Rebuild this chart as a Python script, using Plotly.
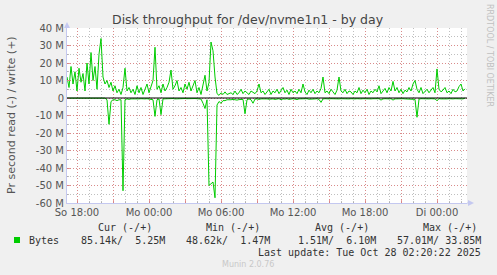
import pandas as pd
import plotly.graph_objects as go

# ---- data (MB/s), 10-minute samples starting Sun 2025-10-26 17:10 ----
write_mb = [12, 6, 18, 8, 15, 4, 17, 9, 14, 4, 20, 8, 26, 10, 18, 5, 25, 34, 12, 8,
            10, 6, 9, 4, 7, 3, 5, 2, 6, 17, 4, 6, 3, 5, 2, 7, 3, 6, 2, 5,
            8, 3, 6, 10, 29, 5, 7, 3, 8, 4, 6, 9, 16, 5, 7, 10, 4, 6, 3, 8, 5, 9, 4, 7, 10, 3, 6, 2, 8, 13, 4, 9,
            32, 27, 12, 2.5,
            1.5, 3, 2, 3.5, 2, 2.5, 3, 2, 4, 2, 3, 5, 2.5, 4, 3, 2, 4, 3, 2.5, 4, 8, 3, 4, 2, 3.5, 5, 2, 4,
            3, 5, 2.5, 4, 6, 3, 4.5, 2, 5, 3,
            4, 2.5, 5, 3, 8, 3.5, 2, 4.5, 3, 5,
            2.5, 4, 3, 5.5, 12, 3, 4, 2.5, 5, 3.5,
            2, 4.5, 12, 4, 3, 5, 2.5, 4, 3.5, 2,
            4, 3, 6, 2.5, 4.5, 3, 5, 2, 4, 3,
            5, 3.5, 7, 2.5, 4, 5.5, 3, 6, 4, 9.5,
            4, 6, 3, 5, 2.5, 4.5, 3.5, 6, 4, 8,
            10, 5, 3, 6, 2.5, 4, 5, 3, 4.5, 6,
            3, 16.6, 5, 3.5, 4.5, 6, 3, 4, 2.5, 5,
            3.5, 4, 6.5, 8, 4, 5.25]

read_mb = [0.1, 0.1, 0.1, 0.1, 0.1, 0.1, 0.1, 0.1, 0.1, 0.1, 0.1, 0.1, 0.1, 0.1, 0.1, 0.1, 0.1, 0.1, 0.1, 0.1,
           1, 15, 2, 1, 1, 1.5, 1, 1, 53, 1,
           0.5, 0.8, 0.5, 0.6, 0.5, 0.7, 0.5, 0.4, 0.6, 0.5, 0.4, 0.6, 0.5,
           1, 10.5, 1, 0.5, 9.5, 0.5,
           0.4, 0.3, 0.5, 0.4, 0.3, 0.5, 0.4, 0.3, 0.4, 0.5, 0.3, 0.4, 0.3, 0.5, 0.4, 0.3, 0.4, 0.5, 0.6,
           3, 6, 1, 50, 49, 48, 57, 4, 2, 3, 1.5,
           1.5, 1, 1.2, 1, 0.8, 1, 1.2, 0.9, 1, 0.8,
           9, 1, 0.5, 1, 3,
           0.6, 0.5, 0.8, 0.5, 0.4, 0.6, 0.5, 0.7, 0.4, 0.5,
           0.8, 0.5, 0.4, 1, 0.5, 0.6, 0.4, 0.8, 0.5, 0.4,
           0.6, 0.9, 0.5, 0.4, 0.6, 0.5, 0.4, 0.7, 0.5, 0.4,
           0.5, 0.4, 0.8, 2.5, 0.5, 0.4, 0.6, 0.5, 0.4, 0.5,
           0.4, 0.6, 0.5, 0.4, 0.5, 0.6, 0.4, 0.5, 0.4, 0.6,
           0.5, 0.4, 0.6, 0.5, 0.4, 0.5, 0.6, 0.4, 0.5, 0.4,
           0.5, 0.6, 0.4, 1.2, 0.5, 0.4, 0.6, 0.5, 0.4, 1.2,
           0.5, 0.4, 0.6, 0.5, 0.4, 0.5, 0.6, 0.4, 0.5, 0.6,
           0.8, 11, 0.6, 0.4, 0.5, 0.6, 0.4, 0.5, 0.4, 0.6,
           0.5, 1.5, 0.4, 0.5, 0.6, 0.4, 0.5, 0.4, 0.6, 0.5,
           0.4, 0.5, 0.6, 0.4, 0.5, 0.085]

x_tickvals = ["2025-10-26 18:00", "2025-10-26 21:00", "2025-10-27 00:00", "2025-10-27 03:00",
              "2025-10-27 06:00", "2025-10-27 09:00", "2025-10-27 12:00", "2025-10-27 15:00",
              "2025-10-27 18:00", "2025-10-27 21:00", "2025-10-28 00:00"]
x_ticktext = ["So 18:00", "", "Mo 00:00", "", "Mo 06:00", "", "Mo 12:00", "", "Mo 18:00", "", "Di 00:00"]
y_tickvals = [-60, -50, -40, -30, -20, -10, 0, 10, 20, 30, 40]
y_ticktext = ["-60 M", "-50 M", "-40 M", "-30 M", "-20 M", "-10 M", "0", "10 M", "20 M", "30 M", "40 M"]

legend_headers = ["Cur (-/+)", "Min (-/+)", "Avg (-/+)", "Max (-/+)"]
legend_values = ["85.14k/  5.25M", "48.62k/  1.47M", " 1.51M/  6.10M", "57.01M/ 33.85M"]

times = pd.date_range("2025-10-26 17:10", periods=len(write_mb), freq="10min")

W, H = 497, 275
L, R, T, B = 67, 467, 28, 203
GREEN = "#00CC00"


def px(x):
    return (x - L) / (R - L)


def py(y):
    return (B - y) / (B - T)


fig = go.Figure()
fig.add_trace(go.Scatter(x=times, y=write_mb, mode="lines",
                         line=dict(color=GREEN, width=1), showlegend=False))
fig.add_trace(go.Scatter(x=times, y=[-v for v in read_mb], mode="lines",
                         line=dict(color=GREEN, width=1), showlegend=False))

red_grid = "rgba(225,120,120,0.75)"
grey_grid = "rgba(170,170,170,0.75)"
axis_col = "#C4C8F0"

fig.update_layout(
    width=W, height=H,
    margin=dict(l=L, r=W - R, t=T, b=H - B, pad=0),
    paper_bgcolor="#F0F0F0", plot_bgcolor="#FFFFFF",
    font=dict(family="DejaVu Sans", size=10, color="#555555"),
    xaxis=dict(
        range=["2025-10-26 17:10", "2025-10-28 02:30"],
        tickmode="array", tickvals=x_tickvals, ticktext=x_ticktext,
        showgrid=True, gridcolor=red_grid, griddash="1px,2px", gridwidth=1,
        showline=True, linecolor=axis_col, linewidth=1,
        ticks="inside", ticklen=3, tickcolor=red_grid,
        tickfont=dict(family="DejaVu Sans", size=10, color="#555555"),
        zeroline=False, fixedrange=True,
        minor=dict(dtick=3600000, tick0="2025-10-26 18:00", showgrid=True,
                   gridcolor=grey_grid, griddash="1px,2px", gridwidth=1,
                   ticks="inside", ticklen=2, tickcolor=grey_grid),
    ),
    yaxis=dict(
        range=[-60, 40],
        tickmode="array", tickvals=y_tickvals, ticktext=y_ticktext,
        showgrid=True, gridcolor=red_grid, griddash="1px,2px", gridwidth=1,
        showline=True, linecolor=axis_col, linewidth=1,
        ticks="inside", ticklen=3, tickcolor=red_grid,
        tickfont=dict(family="DejaVu Sans", size=10, color="#555555"),
        zeroline=False, fixedrange=True,
        minor=dict(dtick=5, tick0=0, showgrid=True,
                   gridcolor=grey_grid, griddash="1px,2px", gridwidth=1,
                   ticks="inside", ticklen=2, tickcolor=grey_grid),
    ),
)

shapes = [
    dict(type="line", xref="paper", yref="y", x0=0, x1=1, y0=0, y1=0,
         line=dict(color="#000000", width=1), layer="above"),
    dict(type="line", xref="paper", yref="paper", x0=1, x1=px(471), y0=0, y1=0,
         line=dict(color=axis_col, width=1)),
    dict(type="path", xref="paper", yref="paper",
         path=f"M {px(468)} {py(200)} L {px(474)} {py(203)} L {px(468)} {py(206)} Z",
         fillcolor=axis_col, line=dict(width=0)),
    dict(type="path", xref="paper", yref="paper",
         path=f"M {px(64)} {py(28)} L {px(67)} {py(22)} L {px(70)} {py(28)} Z",
         fillcolor=axis_col, line=dict(width=0)),
    dict(type="rect", xref="paper", yref="paper",
         x0=px(14), x1=px(20), y0=py(243), y1=py(237),
         fillcolor=GREEN, line=dict(width=0)),
]
fig.update_layout(shapes=shapes)


def ann(text, x, y, xanchor="center", size=10, color="#333333",
        family="DejaVu Sans Mono", angle=0):
    fig.add_annotation(text=text, x=px(x), y=py(y), xref="paper", yref="paper",
                       xanchor=xanchor, yanchor="middle", showarrow=False,
                       textangle=angle, font=dict(family=family, size=size, color=color))


ann("Disk throughput for /dev/nvme1n1 - by day", 248, 19, size=12.5,
    color="#444444", family="DejaVu Sans")
ann("Pr second read (-) / write (+)", 11, 115, size=11, color="#555555",
    family="DejaVu Sans", angle=-90)
ann("RRDTOOL / TOBI OETIKER", 489, 55, size=8, color="#C0C0C0",
    family="DejaVu Sans", angle=90)

header_centers = [125, 233, 341.5, 449.5]
value_ends = [167, 272, 378, 483]
for h, c in zip(legend_headers, header_centers):
    ann(h, c, 227, "center")
ann("Bytes", 27, 240, "left")
for v, e in zip(legend_values, value_ends):
    ann(v.replace(" ", "\u00a0"), e, 240, "right")
ann("Last update: Tue Oct 28 02:20:22 2025", 483, 252, "right")
ann("Munin 2.0.76", 248, 264, size=8, color="#C8C8C8", family="DejaVu Sans")

fig.write_html("out.html")
